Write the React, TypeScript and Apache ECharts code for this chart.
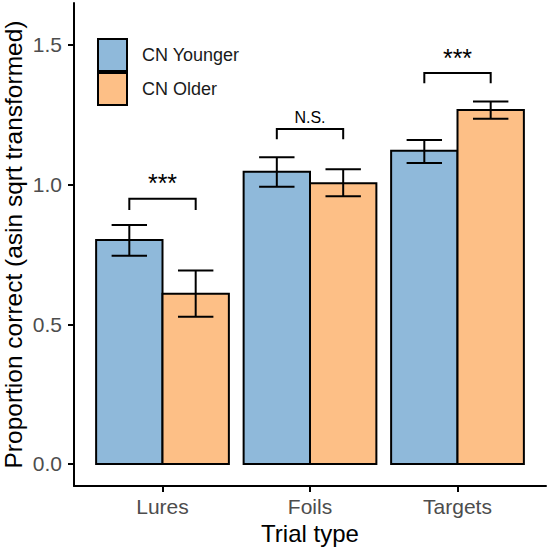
import { useEffect, useRef } from "react";
import * as echarts from "echarts";

const categories = ["Lures", "Foils", "Targets"];
const groups = ["CN Younger", "CN Older"];
const youngerMean = [0.802, 1.046, 1.121];
const youngerLow = [0.745, 0.992, 1.077];
const youngerHigh = [0.855, 1.098, 1.16];
const olderMean = [0.609, 1.005, 1.267];
const olderLow = [0.527, 0.958, 1.236];
const olderHigh = [0.692, 1.055, 1.297];
const bracketTop = [0.949, 1.199, 1.399];
const bracketTip = [0.909, 1.162, 1.363];
const sigLabels = ["***", "N.S.", "***"];
const yTicks = [0, 0.5, 1, 1.5];
const xTicks = [1, 2, 3];

const FONT = "'Liberation Sans', Arial, sans-serif";
const colors = ["#8FB9DA", "#FDBF86"];
const BAR_W = 0.45;
const WHISKER_HALF = 0.12;

function barSeries(name: string, color: string, offset: number, mean: number[], low: number[], high: number[]) {
  return {
    type: "custom",
    name,
    itemStyle: { color, borderColor: "#000", borderWidth: 2 },
    encode: { x: 0, y: [1, 2, 3] },
    data: categories.map((_, i) => [i + 1, mean[i], low[i], high[i]]),
    renderItem: (params: any, api: any) => {
      const x = api.value(0) + offset;
      const top = api.coord([x, api.value(1)]);
      const base = api.coord([x + BAR_W, 0]);
      const cx = x + BAR_W / 2;
      const lo = api.coord([cx, api.value(2)]);
      const hi = api.coord([cx, api.value(3)]);
      const hw = api.size([WHISKER_HALF, 0])[0];
      const ls = { stroke: "#000", lineWidth: 2 };
      return {
        type: "group",
        children: [
          {
            type: "rect",
            shape: { x: top[0], y: top[1], width: base[0] - top[0], height: base[1] - top[1] },
            style: { fill: color, stroke: "#000", lineWidth: 2 },
          },
          { type: "line", shape: { x1: lo[0], y1: lo[1], x2: hi[0], y2: hi[1] }, style: ls },
          { type: "line", shape: { x1: lo[0] - hw, y1: lo[1], x2: lo[0] + hw, y2: lo[1] }, style: ls },
          { type: "line", shape: { x1: hi[0] - hw, y1: hi[1], x2: hi[0] + hw, y2: hi[1] }, style: ls },
        ],
      };
    },
  };
}

export default function App() {
  const ref = useRef<HTMLDivElement>(null);
  useEffect(() => {
    document.body.style.margin = "0";
    const chart = echarts.init(ref.current!, null, { renderer: "svg" });
    const option: any = {
      animation: false,
      backgroundColor: "#fff",
      textStyle: { fontFamily: FONT },
      grid: { left: 74, right: 5, top: 3, bottom: 65, containLabel: false, outerBoundsMode: "none" },
      legend: {
        orient: "vertical",
        left: 97,
        top: 38,
        padding: 0,
        itemWidth: 29,
        itemHeight: 32,
        itemGap: 0,
        textStyle: { fontSize: 18, color: "#1a1a1a", fontFamily: FONT, padding: [0, 0, 0, 10] },
        data: groups.map((g, i) => ({
          name: g,
          icon: "rect",
          itemStyle: { color: colors[i], borderColor: "#000", borderWidth: 2 },
        })),
      },
      xAxis: {
        type: "value",
        min: 0.4,
        max: 3.6,
        splitLine: { show: false },
        axisLine: { show: true, onZero: false, lineStyle: { color: "#000", width: 2 } },
        axisTick: { show: true, length: 6, customValues: xTicks, lineStyle: { color: "#000", width: 2 } },
        axisLabel: {
          customValues: xTicks,
          formatter: (v: number) => categories[Math.round(v) - 1] ?? "",
          fontSize: 21,
          color: "#4d4d4d",
          margin: 10,
          fontFamily: FONT,
        },
        name: "Trial type",
        nameLocation: "middle",
        nameGap: 35,
        nameMoveOverlap: false,
        nameTextStyle: { fontSize: 24, color: "#000", fontFamily: FONT },
      },
      yAxis: {
        type: "value",
        min: -0.079,
        max: 1.65,
        splitLine: { show: false },
        axisLine: { show: true, onZero: false, lineStyle: { color: "#000", width: 2 } },
        axisTick: { show: true, length: 6, customValues: yTicks, lineStyle: { color: "#000", width: 2 } },
        axisLabel: {
          customValues: yTicks,
          formatter: (v: number) => v.toFixed(1),
          fontSize: 21,
          color: "#4d4d4d",
          margin: 12,
          fontFamily: FONT,
        },
        name: "Proportion correct (asin sqrt transformed)",
        nameLocation: "middle",
        nameGap: 48,
        nameMoveOverlap: false,
        nameTextStyle: { fontSize: 24.5, color: "#000", fontFamily: FONT },
      },
      series: [
        barSeries(groups[0], colors[0], -BAR_W, youngerMean, youngerLow, youngerHigh),
        barSeries(groups[1], colors[1], 0, olderMean, olderLow, olderHigh),
        {
          type: "custom",
          name: "brackets",
          encode: { x: 0, y: [1, 2] },
          data: categories.map((_, i) => [i + 1, bracketTop[i], bracketTip[i]]),
          renderItem: (params: any, api: any) => {
            const x = api.value(0);
            const l = x - BAR_W / 2;
            const r = x + BAR_W / 2;
            const a = api.coord([l, api.value(2)]);
            const b = api.coord([l, api.value(1)]);
            const c = api.coord([r, api.value(1)]);
            const d = api.coord([r, api.value(2)]);
            const label = sigLabels[params.dataIndex];
            const isStar = label.indexOf("*") >= 0;
            return {
              type: "group",
              children: [
                {
                  type: "polyline",
                  shape: { points: [a, b, c, d] },
                  style: { stroke: "#000", lineWidth: 2, fill: "none" },
                },
                {
                  type: "text",
                  x: (b[0] + c[0]) / 2,
                  y: b[1] - 3,
                  style: {
                    text: label,
                    fontSize: isStar ? 25 : 16,
                    fontFamily: FONT,
                    fill: "#000",
                    align: "center",
                    verticalAlign: "bottom",
                  },
                },
              ],
            };
          },
        },
      ],
    };
    chart.setOption(option);
    return () => chart.dispose();
  }, []);
  return <div ref={ref} style={{ width: 551, height: 551 }} />;
}
